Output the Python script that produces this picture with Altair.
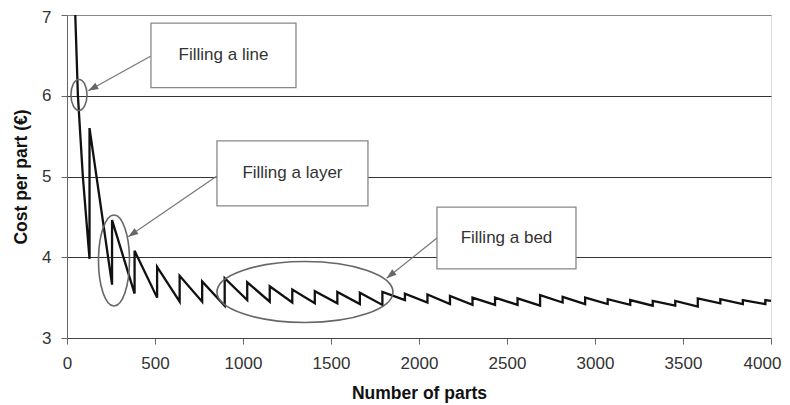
import altair as alt
import pandas as pd

# ---- data ----
start_parts = [47, 62, 90]
start_cost = [7.0, 6.0, 5.0]
jump_parts = [128, 256, 384, 512, 640, 768, 896, 1024, 1152, 1280, 1408, 1536,
              1664, 1792, 1920, 2048, 2176, 2304, 2432, 2560, 2688, 2816, 2944,
              3072, 3200, 3328, 3456, 3584, 3712, 3840, 3968]
min_cost = [3.98, 3.66, 3.55, 3.50, 3.45, 3.45, 3.40, 3.47, 3.45, 3.44, 3.43, 3.43,
            3.42, 3.41, 3.47, 3.44, 3.42, 3.41, 3.41, 3.41, 3.40, 3.44, 3.42,
            3.42, 3.41, 3.40, 3.40, 3.39, 3.43, 3.42, 3.42]
peak_cost = [5.60, 4.46, 4.08, 3.88, 3.77, 3.70, 3.74, 3.69, 3.64, 3.60, 3.58, 3.57,
             3.56, 3.57, 3.55, 3.54, 3.52, 3.50, 3.50, 3.49, 3.53, 3.51, 3.50,
             3.48, 3.47, 3.46, 3.46, 3.49, 3.48, 3.47, 3.47]
end_parts = [4000]
end_cost = [3.46]

x_ticks = [0, 500, 1000, 1500, 2000, 2500, 3000, 3500, 4000]
y_ticks = [3, 4, 5, 6, 7]

box_text = ["Filling a line", "Filling a layer", "Filling a bed"]
box_x1 = [477, 852, 2102]
box_x2 = [1301, 1710, 2892]
box_y1 = [6.90, 5.44, 4.62]
box_y2 = [6.10, 4.635, 3.855]

arrow_x1 = [477, 852, 2102]
arrow_y1 = [6.492, 5.006, 4.238]
arrow_x2 = [121, 348, 1816]
arrow_y2 = [6.063, 4.255, 3.739]
arrow_angle = [241, 236, 231]

ell_x = [68, 267, 1352]
ell_y = [6.01, 3.96, 3.57]
ell_w = [16, 31, 176]   # px
ell_h = [31, 91, 61]    # px

# ---- build tables ----
px, py = list(start_parts), list(start_cost)
for j, mn, pk in zip(jump_parts, min_cost, peak_cost):
    px += [j, j]
    py += [mn, pk]
px += end_parts
py += end_cost
line_df = pd.DataFrame({"parts": px, "cost": py, "order": range(len(px))})

box_df = pd.DataFrame({"t": box_text, "x1": box_x1, "x2": box_x2, "y1": box_y1, "y2": box_y2})
box_df["xc"] = (box_df.x1 + box_df.x2) / 2
box_df["yc"] = (box_df.y1 + box_df.y2) / 2
arrow_df = pd.DataFrame({"x1": arrow_x1, "y1": arrow_y1, "x2": arrow_x2, "y2": arrow_y2, "a": arrow_angle})

FONT = "Liberation Sans"
xs = alt.Scale(domain=[0, 4000], nice=False, zero=False)
ys = alt.Scale(domain=[3, 7], nice=False, zero=False)

line = alt.Chart(line_df).mark_line(color="#111", strokeWidth=2.3, clip=True).encode(
    x=alt.X("parts:Q", scale=xs, axis=alt.Axis(
        title="Number of parts", values=x_ticks, format="d", grid=False, labelFontSize=17,
        labelColor="#333", labelFont=FONT, titleFont=FONT, titleFontSize=17.5,
        titleFontWeight="bold", titleColor="#111", tickSize=6, tickColor="#666",
        domainColor="#444", labelPadding=11, titlePadding=13, labelFlush=False,
        labelOffset={"condition": {"test": "datum.value === 4000", "value": -9}, "value": 0})),
    y=alt.Y("cost:Q", scale=ys, axis=alt.Axis(
        title="Cost per part (€)", values=y_ticks, format="d", labelFontSize=17, labelColor="#333",
        labelFont=FONT, titleFont=FONT, titleFontSize=17.5, titleFontWeight="bold",
        titleColor="#111", tickSize=6, tickColor="#666", domainColor="#666",
        labelPadding=10, titlePadding=11,
        labelOffset={"condition": {"test": "datum.value === 7", "value": 2}, "value": 0},
        gridColor={"condition": {"test": "datum.value === 7 || datum.value === 3", "value": "#888"}, "value": "#333"},
        gridWidth=1.2)),
    order="order:Q",
)

def ellipse_path(w, h):
    m = max(w, h)
    rx, ry = w / m, h / m
    k = 0.5523
    return (f"M {-rx} 0 C {-rx} {-k*ry} {-k*rx} {-ry} 0 {-ry} "
            f"C {k*rx} {-ry} {rx} {-k*ry} {rx} 0 "
            f"C {rx} {k*ry} {k*rx} {ry} 0 {ry} "
            f"C {-k*rx} {ry} {-rx} {k*ry} {-rx} 0 Z")

ellipses = []
for cx, cy, w, h in zip(ell_x, ell_y, ell_w, ell_h):
    d = pd.DataFrame({"x": [cx], "y": [cy]})
    ellipses.append(alt.Chart(d).mark_point(
        shape=ellipse_path(w, h), size=max(w, h) ** 2, filled=False,
        stroke="#666", strokeWidth=1.6, opacity=1).encode(
        x=alt.X("x:Q", scale=xs), y=alt.Y("y:Q", scale=ys)))

arrows = alt.Chart(arrow_df).mark_rule(color="#777", strokeWidth=1.2).encode(
    x=alt.X("x1:Q", scale=xs), y=alt.Y("y1:Q", scale=ys), x2="x2:Q", y2="y2:Q")
heads = alt.Chart(arrow_df).mark_point(
    shape="M 0 0 L -0.35 1 L 0.35 1 Z", size=400, filled=True, color="#666", opacity=1).encode(
    x=alt.X("x2:Q", scale=xs), y=alt.Y("y2:Q", scale=ys), angle=alt.Angle("a:Q", scale=None))

boxes = alt.Chart(box_df).mark_rect(fill="white", stroke="#888", strokeWidth=1.3).encode(
    x=alt.X("x1:Q", scale=xs), x2="x2:Q", y=alt.Y("y1:Q", scale=ys), y2="y2:Q")
texts = alt.Chart(box_df).mark_text(font=FONT, fontSize=17, color="#333").encode(
    x=alt.X("xc:Q", scale=xs), y=alt.Y("yc:Q", scale=ys), text="t:N")

chart = alt.layer(line, *ellipses, arrows, heads, boxes, texts).properties(
    width=704, height=323,
    autosize=alt.AutoSizeParams(type="none"),
    padding={"left": 59, "top": 7, "right": 11, "bottom": 66},
).configure_view(stroke="#888", strokeWidth=1).configure(background="white")

chart.save("out.html", embed_options={"renderer": "svg", "actions": False})
